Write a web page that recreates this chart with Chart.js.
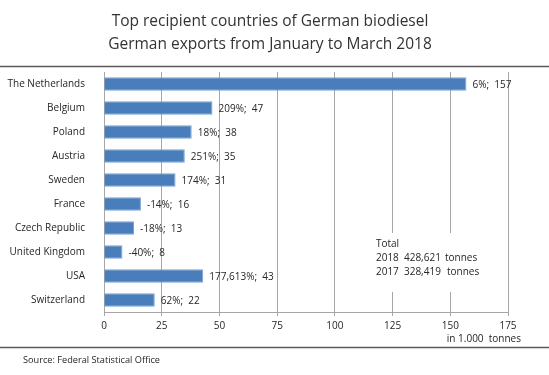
<!DOCTYPE html>
<html>
<head>
<meta charset="utf-8">
<script src="https://cdn.jsdelivr.net/npm/chart.js@4"></script>
<style>
  html, body { margin: 0; padding: 0; background: #fff; }
  #wrap { width: 549px; height: 375px; position: relative; }
</style>
</head>
<body>
<div id="wrap"><canvas id="chart" width="549" height="375"></canvas></div>
<script>
// Data
const countries = ['The Netherlands', 'Belgium', 'Poland', 'Austria', 'Sweden',
    'France', 'Czech Republic', 'United Kingdom', 'USA', 'Switzerland'];
const exports2018 = [157, 47, 38, 35, 31, 16, 13, 8, 43, 22];
const changeVs2017 = ['6%', '209%', '18%', '251%', '174%', '-14%', '-18%', '-40%', '177,613%', '62%'];
const xTicks = [0, 25, 50, 75, 100, 125, 150, 175];
const titleLines = ['Top recipient countries of German biodiesel', 'German exports from January to March 2018'];
const totalRows = [['2018', '428,621', 'tonnes'], ['2017', '328,419', 'tonnes']];
const unitLabel = 'in 1.000  tonnes';
const sourceText = 'Source: Federal Statistical Office';

const FONT = '"Open Sans", "DejaVu Sans", sans-serif';
const TEXT = '#262626';

// Draws title, rules, value labels, the totals box and footer
const decorations = {
    id: 'decorations',
    afterDatasetsDraw(chart) {
        const ctx = chart.ctx;
        const xs = chart.scales.x;
        const area = chart.chartArea;
        ctx.save();

        // value labels at the bar ends
        ctx.font = '10px ' + FONT;
        ctx.fillStyle = TEXT;
        ctx.textAlign = 'left';
        ctx.textBaseline = 'middle';
        chart.getDatasetMeta(0).data.forEach((bar, i) => {
            ctx.fillText(changeVs2017[i] + ';  ' + exports2018[i], bar.x + 6, bar.y + 1);
        });

        // totals box (covers the gridlines behind it)
        const boxLeft = xs.getPixelForValue(115);
        const boxRight = xs.getPixelForValue(165);
        ctx.fillStyle = '#fff';
        ctx.fillRect(boxLeft, area.top + 161, boxRight - boxLeft, 59);
        ctx.fillStyle = TEXT;
        const tx = xs.getPixelForValue(117.8);
        ctx.fillText('Total', tx, area.top + 172);
        totalRows.forEach((row, i) => {
            const y = area.top + 186 + i * 14.5;
            ctx.fillText(row[0], tx, y);
            ctx.fillText(row[1], tx + 28, y);
            ctx.fillText(row[2], tx + 69 + i * 2, y);
        });

        // unit label under the axis
        ctx.textAlign = 'right';
        ctx.fillText(unitLabel, area.right + 13, area.bottom + 27);
        ctx.restore();
    },
    afterDraw(chart) {
        const ctx = chart.ctx;
        const w = chart.width;
        ctx.save();
        ctx.fillStyle = '#333';
        ctx.font = '15.5px ' + FONT;
        ctx.textAlign = 'center';
        ctx.textBaseline = 'middle';
        titleLines.forEach((t, i) => ctx.fillText(t, 270, 22 + i * 23));

        ctx.strokeStyle = '#595959';
        ctx.lineWidth = 1.5;
        [66.5, 347.5].forEach(y => {
            ctx.beginPath();
            ctx.moveTo(0, y);
            ctx.lineTo(w, y);
            ctx.stroke();
        });

        ctx.font = '9.2px ' + FONT;
        ctx.textAlign = 'left';
        ctx.fillStyle = TEXT;
        ctx.fillText(sourceText, 23, 360);
        ctx.restore();
    }
};

new Chart(document.getElementById('chart'), {
    type: 'bar',
    data: {
        labels: countries,
        datasets: [{
            data: exports2018,
            backgroundColor: '#4a7ebb',
            borderColor: '#7aa3d4',
            borderWidth: 1,
            barPercentage: 0.56,
            categoryPercentage: 1
        }]
    },
    options: {
        indexAxis: 'y',
        responsive: false,
        animation: false,
        layout: { padding: { top: 72, right: 41, left: 0, bottom: 0 } },
        plugins: {
            legend: { display: false },
            tooltip: { enabled: false }
        },
        scales: {
            x: {
                min: 0,
                max: 175,
                afterBuildTicks: scale => { scale.ticks = xTicks.map(v => ({ value: v })); },
                afterFit: scale => { scale.height = 63; },
                grid: { color: '#a6a6a6', tickLength: 4, drawOnChartArea: true },
                border: { color: '#a6a6a6' },
                ticks: { font: { size: 10, family: FONT }, color: TEXT, padding: 4 }
            },
            y: {
                afterFit: scale => { scale.width = 104; },
                grid: { display: false },
                border: { display: false },
                ticks: { font: { size: 10, family: FONT }, color: TEXT, padding: 11 }
            }
        }
    },
    plugins: [decorations]
});
</script>
</body>
</html>
